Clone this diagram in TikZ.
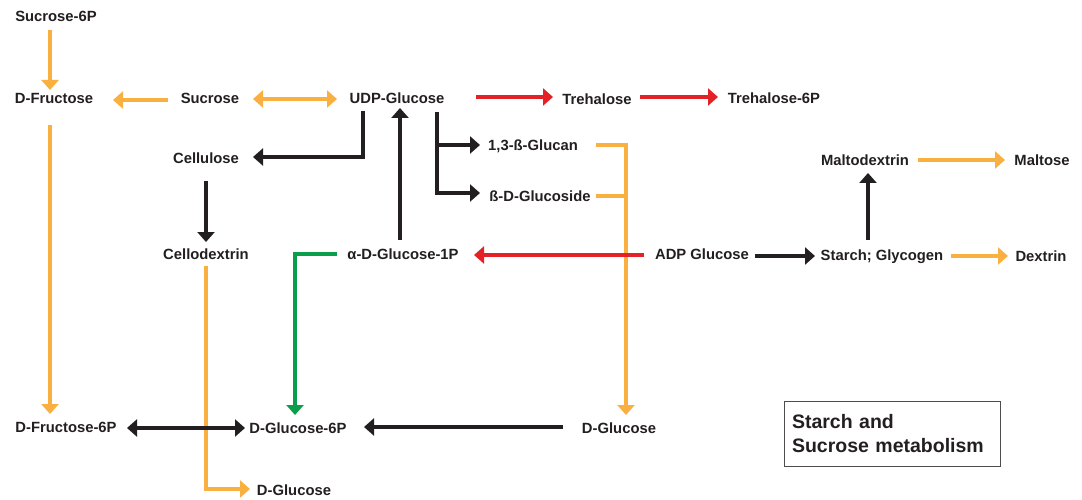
\documentclass[tikz,border=0pt]{standalone}
\usepackage{fontspec}
\setmainfont{Liberation Sans}
\usetikzlibrary{calc,arrows.meta}
\definecolor{orc}{RGB}{249,176,64}
\definecolor{rdc}{RGB}{227,34,40}
\definecolor{gnc}{RGB}{10,158,74}
\definecolor{bkc}{RGB}{35,31,32}
\definecolor{txc}{RGB}{35,31,32}
\tikzset{
  lbl/.style={inner sep=0pt, text height=10pt, text depth=0pt, text=txc,
    font=\fontsize{14.8}{16}\selectfont\bfseries},
  tip/.style={-{Triangle[length=10pt,width=17pt]}},
  dtip/.style={{Triangle[length=10pt,width=17pt]}-{Triangle[length=10pt,width=17pt]}},
  orl/.style={draw=orc, line width=4pt},
  rdl/.style={draw=rdc, line width=4.3pt},
  bkl/.style={draw=bkc, line width=4.3pt},
  gnl/.style={draw=gnc, line width=4pt},
}
\begin{document}
\begin{tikzpicture}[x=1pt,y=-1pt]
\useasboundingbox (0,0) rectangle (1082,500);
% nodes
\node[lbl] (s6p) at (56,17) {Sucrose-6P};
\node[lbl] (dfru) at (54,99) {D-Fructose};
\node[lbl] (suc) at (210,99) {Sucrose};
\node[lbl] (udp) at (397,99) {UDP-Glucose};
\node[lbl] (tre) at (597,100) {Trehalose};
\node[lbl] (tre6p) at (774,99) {Trehalose-6P};
\node[lbl] (cell) at (206,159) {Cellulose};
\node[lbl] (glucan) at (533,145) {1,3-ß-Glucan};
\node[lbl] (gluside) at (540,196) {ß-D-Glucoside};
\node[lbl] (maltodex) at (865,160) {Maltodextrin};
\node[lbl] (maltose) at (1042,160) {Maltose};
\node[lbl] (cdex) at (206,254) {Cellodextrin};
\node[lbl] (ag1p) at (403,254) {α-D-Glucose-1P};
\node[lbl] (adp) at (702,254) {ADP Glucose};
\node[lbl] (starch) at (882,255) {Starch; Glycogen};
\node[lbl] (dextrin) at (1041,256) {Dextrin};
\node[lbl] (f6p) at (66,427) {D-Fructose-6P};
\node[lbl] (g6p) at (298,428) {D-Glucose-6P};
\node[lbl] (dglc) at (619,428) {D-Glucose};
\node[lbl] (dglc2) at (294,490) {D-Glucose};
\node[draw=bkc!80, line width=1pt, minimum width=216pt, minimum height=65pt,
  text width=200pt, align=left, inner sep=0pt, text=txc,
  font=\fontsize{19.5}{24}\selectfont\bfseries] (title) at (892,433.5)
  {Starch and\\Sucrose metabolism};
% orange connectors
\draw[orl,tip] ($(s6p)+(-6,13)$) -- ($(dfru)+(-4,-9)$);
\draw[orl,tip] ($(suc)+(-42,1)$) -- ($(dfru)+(59,1)$);
\draw[orl,dtip] ($(suc)+(43,0)$) -- ($(udp)+(-60,0)$);
\draw[orl,tip] ($(dfru)+(-4,26)$) -- ($(f6p)+(-16,-13)$);
\draw[orl,tip] ($(glucan)+(63,0)$) -| ($(dglc)+(7,-13)$);
\draw[orl] ($(gluside)+(56,0)$) -| ($(dglc)+(7,-40)$);
\draw[orl,tip] ($(cdex)+(0,12)$) |- ($(dglc2)+(-44,-1)$);
\draw[orl,tip] ($(maltodex)+(53,0)$) -- ($(maltose)+(-37,0)$);
\draw[orl,tip] ($(starch)+(69,1)$) -- ($(dextrin)+(-33,0)$);
% red connectors
\draw[rdl,tip] ($(udp)+(79,-2)$) -- ($(tre)+(-44,-3)$);
\draw[rdl,tip] ($(tre)+(43,-3)$) -- ($(tre6p)+(-56,-2)$);
\draw[rdl,tip] ($(adp)+(-58,1)$) -- ($(ag1p)+(71,1)$);
% black connectors
\draw[bkl,tip] ($(udp)+(-34,12)$) |- ($(cell)+(47,-2)$);
\draw[bkl,tip] ($(ag1p)+(-3,-14)$) -- ($(udp)+(3,9)$);
\draw[bkl,tip] ($(udp)+(40,13)$) |- ($(glucan)+(-53,0)$);
\draw[bkl,tip] ($(udp)+(40,13)$) |- ($(gluside)+(-60,-3)$);
\draw[bkl,tip] ($(cell)+(0,22)$) -- ($(cdex)+(0,-12)$);
\draw[bkl,tip] ($(adp)+(53,2)$) -- ($(starch)+(-67,1)$);
\draw[bkl,tip] ($(starch)+(-14,-15)$) -- ($(maltodex)+(3,13)$);
\draw[bkl,dtip] ($(f6p)+(61,1)$) -- ($(g6p)+(-53,0)$);
\draw[bkl,tip] ($(dglc)+(-56,-1)$) -- ($(g6p)+(66,-1)$);
% green connector
\draw[gnl,tip] ($(ag1p)+(-66,0)$) -| ($(g6p)+(-3,-13)$);
\end{tikzpicture}
\end{document}
